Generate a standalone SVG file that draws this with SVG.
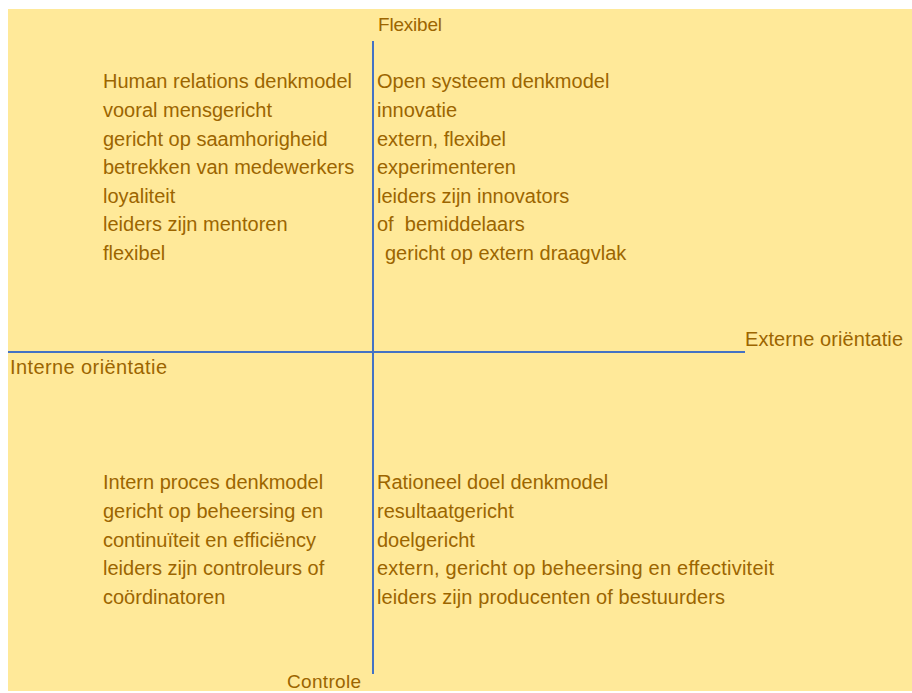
<svg xmlns="http://www.w3.org/2000/svg" width="912" height="693" viewBox="0 0 912 693">
<style>
text{font-family:"Liberation Sans",Arial,sans-serif;font-size:20px;fill:#9C6500;white-space:pre}
.ax{font-size:19px}
.ln{stroke:#4472C4;stroke-width:2;fill:none}
</style>
<rect x="0" y="0" width="912" height="693" fill="#FFFFFF"/>
<rect x="8" y="9" width="904" height="682" fill="#FFE999"/>
<g id="connectors">
<line class="ln" x1="373" y1="41" x2="373" y2="674"/>
<line class="ln" x1="8" y1="352" x2="745" y2="352"/>
</g>
<g id="axis-flexibel"><text class="ax" x="378" y="31" textLength="64">Flexibel</text></g>
<g id="axis-extern"><text x="745" y="346" textLength="158">Externe oriëntatie</text></g>
<g id="axis-intern"><text x="10" y="374" textLength="157">Interne oriëntatie</text></g>
<g id="axis-controle"><text class="ax" x="287" y="688" textLength="74">Controle</text></g>
<g id="q-human-relations">
<text x="103" y="88">Human relations denkmodel</text>
<text x="103" y="117">vooral mensgericht</text>
<text x="103" y="145.5">gericht op saamhorigheid</text>
<text x="103" y="174">betrekken van medewerkers</text>
<text x="103" y="202.5">loyaliteit</text>
<text x="103" y="231">leiders zijn mentoren</text>
<text x="103" y="259.5">flexibel</text>
</g>
<g id="q-open-systeem">
<text x="377" y="88">Open systeem denkmodel</text>
<text x="377" y="117">innovatie</text>
<text x="377" y="145.5">extern, flexibel</text>
<text x="377" y="174">experimenteren</text>
<text x="377" y="202.5">leiders zijn innovators</text>
<text x="377" y="231">of  bemiddelaars</text>
<text x="385" y="259.5">gericht op extern draagvlak</text>
</g>
<g id="q-intern-proces">
<text x="103" y="489">Intern proces denkmodel</text>
<text x="103" y="518">gericht op beheersing en</text>
<text x="103" y="546.5">continuïteit en efficiëncy</text>
<text x="103" y="575">leiders zijn controleurs of</text>
<text x="103" y="604">coördinatoren</text>
</g>
<g id="q-rationeel-doel">
<text x="377" y="489">Rationeel doel denkmodel</text>
<text x="377" y="518">resultaatgericht</text>
<text x="377" y="546.5">doelgericht</text>
<text x="377" y="575" textLength="397">extern, gericht op beheersing en effectiviteit</text>
<text x="377" y="604" textLength="348">leiders zijn producenten of bestuurders</text>
</g>
</svg>
